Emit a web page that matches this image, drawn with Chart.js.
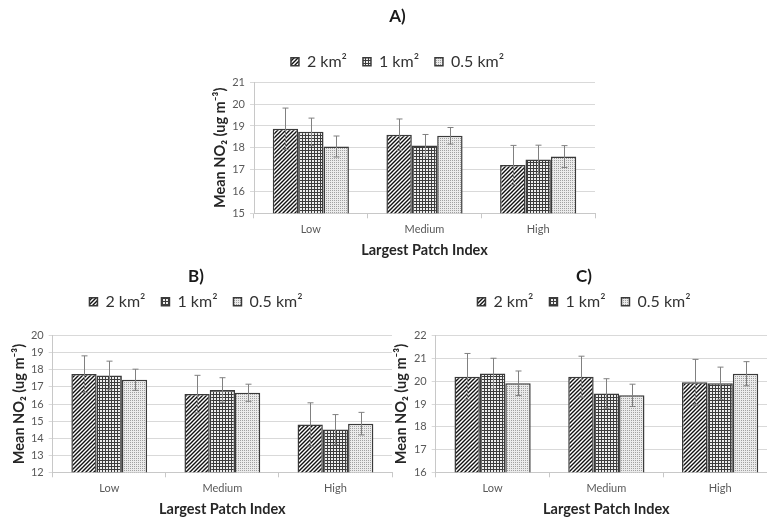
<!DOCTYPE html>
<html>
<head>
<meta charset="utf-8">
<script src="https://cdn.jsdelivr.net/npm/chart.js@4.4.1/dist/chart.umd.min.js"></script>
<style>
  html, body { margin: 0; padding: 0; background: #fff; overflow: hidden; width: 767px; height: 519px; }
  .panel { position: absolute; }
</style>
</head>
<body>
<div class="panel" style="left:200px;top:0px;width:397px;height:262px;"><canvas id="chartA"></canvas></div>
<div class="panel" style="left:0px;top:262px;width:394px;height:257px;"><canvas id="chartB"></canvas></div>
<div class="panel" style="left:391px;top:262px;width:388px;height:257px;"><canvas id="chartC"></canvas></div>
<script>
// categories and series
const categories = ["Low", "Medium", "High"];
const seriesNames = ["2 km\u00B2", "1 km\u00B2", "0.5 km\u00B2"];

// panel A
const meanA_2km = [18.87, 18.60, 17.21];
const meanA_1km = [18.73, 18.11, 17.46];
const meanA_05km = [18.06, 18.55, 17.60];
const errA_2km = [0.95, 0.72, 0.90];
const errA_1km = [0.63, 0.50, 0.66];
const errA_05km = [0.48, 0.38, 0.50];

// panel B
const meanB_2km = [17.75, 16.58, 14.80];
const meanB_1km = [17.67, 16.82, 14.50];
const meanB_05km = [17.42, 16.66, 14.85];
const errB_2km = [1.07, 1.10, 1.27];
const errB_1km = [0.84, 0.72, 0.88];
const errB_05km = [0.62, 0.50, 0.66];

// panel C
const meanC_2km = [20.20, 20.20, 19.96];
const meanC_1km = [20.34, 19.46, 19.91];
const meanC_05km = [19.91, 19.38, 20.33];
const errC_2km = [1.02, 0.90, 1.00];
const errC_1km = [0.67, 0.65, 0.71];
const errC_05km = [0.54, 0.49, 0.53];

// y axis ranges
const rangeA = [15, 21];
const rangeB = [12, 20];
const rangeC = [16, 22];

const FONT = "Lato, 'Open Sans', sans-serif";

// --- fill patterns ---
function hatchPattern() {
    const c = document.createElement("canvas");
    c.width = 4; c.height = 4;
    const g = c.getContext("2d");
    g.fillStyle = "#fff";
    g.fillRect(0, 0, 4, 4);
    g.strokeStyle = "#111";
    g.lineWidth = 1.4;
    g.beginPath();
    g.moveTo(-1, 5); g.lineTo(5, -1);
    g.moveTo(-1, 1); g.lineTo(1, -1);
    g.moveTo(3, 5); g.lineTo(5, 3);
    g.stroke();
    return g.createPattern(c, "repeat");
}

function gridPattern() {
    const c = document.createElement("canvas");
    c.width = 3; c.height = 3;
    const g = c.getContext("2d");
    g.fillStyle = "#3c3c3c";
    g.fillRect(0, 0, 3, 3);
    g.fillStyle = "#eeeeee";
    g.fillRect(1, 1, 2, 2);
    return g.createPattern(c, "repeat");
}

function dotPattern() {
    const c = document.createElement("canvas");
    c.width = 2; c.height = 2;
    const g = c.getContext("2d");
    g.fillStyle = "#ebebeb";
    g.fillRect(0, 0, 2, 2);
    g.fillStyle = "#a0a0a0";
    g.fillRect(0, 0, 1, 1);
    return g.createPattern(c, "repeat");
}

const fills = [hatchPattern(), gridPattern(), dotPattern()];

// error bars on top of the bars
const errorBars = {
    id: "errorBars",
    afterDatasetsDraw(chart) {
        const ctx = chart.ctx;
        const y = chart.scales.y;
        ctx.save();
        ctx.strokeStyle = "#808080";
        ctx.lineWidth = 1;
        chart.data.datasets.forEach((ds, i) => {
            const meta = chart.getDatasetMeta(i);
            meta.data.forEach((bar, j) => {
                const v = ds.data[j];
                const e = ds.errors[j];
                const x = Math.round(bar.x) + 0.5;
                const yTop = y.getPixelForValue(v + e);
                const yBot = y.getPixelForValue(v - e);
                ctx.beginPath();
                ctx.moveTo(x, yTop); ctx.lineTo(x, yBot);
                ctx.moveTo(x - 3, yTop); ctx.lineTo(x + 3, yTop);
                ctx.moveTo(x - 3, yBot); ctx.lineTo(x + 3, yBot);
                ctx.stroke();
            });
        });
        ctx.restore();
    }
};

function makeChart(id, title, means, errs, range, lay) {
    const legendGap = {
        id: "legendGap",
        beforeInit(chart) {
            const fit = chart.legend.fit;
            chart.legend.fit = function () {
                fit.bind(chart.legend)();
                this.height += lay.legendExtra;
            };
        }
    };

    new Chart(document.getElementById(id), {
        type: "bar",
        data: {
            labels: categories,
            datasets: seriesNames.map((name, i) => ({
                label: name,
                data: means[i],
                errors: errs[i],
                backgroundColor: fills[i],
                borderColor: "#3a3a3a",
                borderWidth: 1.5,
                categoryPercentage: 0.67,
                barPercentage: 1.0
            }))
        },
        options: {
            responsive: true,
            maintainAspectRatio: false,
            animation: false,
            layout: { padding: { left: 0, right: 2, top: 0, bottom: 0 } },
            plugins: {
                title: {
                    display: true,
                    text: title,
                    color: "#1a1a1a",
                    font: { family: FONT, size: 17, weight: "bold" },
                    padding: { top: lay.titleTop, bottom: lay.titleBottom }
                },
                legend: {
                    display: true,
                    labels: {
                        color: "#333",
                        boxWidth: 8,
                        boxHeight: 8,
                        padding: 16,
                        font: { family: FONT, size: 16 }
                    }
                },
                tooltip: { enabled: false }
            },
            scales: {
                x: {
                    afterFit(scale) { scale.height = lay.xHeight; },
                    grid: {
                        display: true,
                        drawOnChartArea: false,
                        drawTicks: true,
                        tickLength: 5,
                        offset: true,
                        color: "#c8c8c8"
                    },
                    border: { display: true, color: "#c8c8c8" },
                    ticks: {
                        color: "#595959",
                        padding: 5,
                        font: { family: FONT, size: 11 }
                    },
                    title: {
                        display: true,
                        text: "Largest Patch Index",
                        color: "#262626",
                        font: { family: FONT, size: 14.5, weight: "bold" },
                        padding: { top: 0, bottom: lay.xTitleBottom }
                    }
                },
                y: {
                    min: range[0],
                    max: range[1],
                    afterFit(scale) { scale.width = lay.yWidth; },
                    grid: {
                        color: "#d9d9d9",
                        drawTicks: true,
                        tickLength: 4
                    },
                    border: { display: true, color: "#c8c8c8" },
                    ticks: {
                        stepSize: 1,
                        color: "#595959",
                        padding: 5,
                        font: { family: FONT, size: 11 }
                    },
                    title: {
                        display: true,
                        text: "Mean NO\u2082 (ug m\u207B\u00B3)",
                        color: "#262626",
                        font: { family: FONT, size: 14.5, weight: "bold" },
                        padding: { top: lay.yTitleTop, bottom: 0 }
                    }
                }
            }
        },
        plugins: [legendGap, errorBars]
    });
}

makeChart("chartA", "A)",
    [meanA_2km, meanA_1km, meanA_05km],
    [errA_2km, errA_1km, errA_05km],
    rangeA,
    { titleTop: 6.8, titleBottom: 10.5, legendExtra: 2.6, xHeight: 48.7, xTitleBottom: 2.5, yWidth: 54, yTitleTop: 12 });

makeChart("chartB", "B)",
    [meanB_2km, meanB_1km, meanB_05km],
    [errB_2km, errB_1km, errB_05km],
    rangeB,
    { titleTop: 4.5, titleBottom: -9.2, legendExtra: 16, xHeight: 46.7, xTitleBottom: 1.2, yWidth: 52.7, yTitleTop: 11 });

makeChart("chartC", "C)",
    [meanC_2km, meanC_1km, meanC_05km],
    [errC_2km, errC_1km, errC_05km],
    rangeC,
    { titleTop: 4.5, titleBottom: -9.2, legendExtra: 16, xHeight: 46.7, xTitleBottom: 1.2, yWidth: 44.7, yTitleTop: 2 });
</script>
</body>
</html>
